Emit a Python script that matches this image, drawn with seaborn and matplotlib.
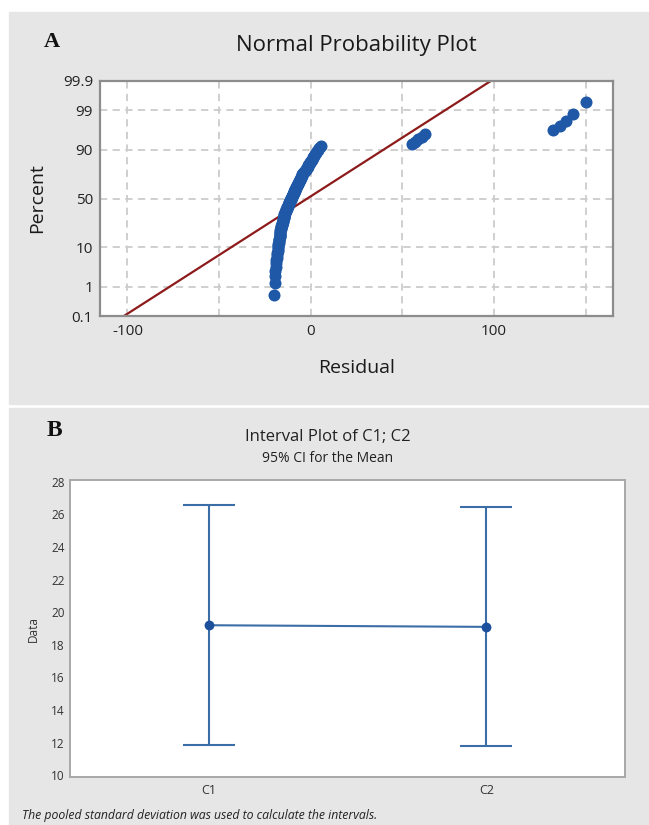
import numpy as np
import pandas as pd
import matplotlib
matplotlib.use("Agg")
import matplotlib.pyplot as plt
from matplotlib.patches import Rectangle
import seaborn as sns
from statistics import NormalDist

sns.set_theme(style="white")
plt.rcParams['font.family'] = ['Open Sans', 'DejaVu Sans']

# --- panel A: residuals (sorted) ---
residuals_main = [
    -20.2, -19.6, -19.4, -19.3, -19.2, -19.1, -18.8, -18.6, -18.4, -18.3,
    -18.1, -18.0, -17.9, -17.7, -17.6, -17.5, -17.4, -17.3, -17.2, -17.0,
    -16.9, -16.9, -16.8, -16.7, -16.6, -16.5, -16.4, -16.3, -16.1, -16.0,
    -15.9, -15.7, -15.6, -15.5, -15.3, -15.2, -15.0, -14.9, -14.8, -14.7,
    -14.6, -14.5, -14.4, -14.3, -14.1, -14.0, -13.8, -13.6, -13.5, -13.3,
    -13.1, -12.9, -12.8, -12.6, -12.4, -12.2, -12.1, -11.9, -11.7, -11.6,
    -11.4, -11.2, -11.0, -10.8, -10.6, -10.4, -10.2, -10.1, -9.9, -9.7,
    -9.5, -9.3, -9.2, -8.9, -8.7, -8.6, -8.4, -8.2, -8.0, -7.8,
    -7.6, -7.4, -7.2, -7.0, -6.8, -6.6, -6.3, -6.1, -5.9, -5.6,
    -5.4, -5.2, -4.9, -4.7, -4.5, -4.2, -3.9, -3.5, -3.2, -2.8,
    -2.5, -2.1, -1.7, -1.4, -1.0, -0.5, -0.2, 0.2, 0.6, 1.0,
    1.4, 1.8, 2.2, 2.8, 3.2, 3.8, 4.6, 5.8,
]
residuals_mid = [55.5, 57.0, 58.5, 60.5, 62.5]
residuals_high = [132.5, 136.0, 139.5, 143.0]
residuals_top = [150.0]

prob_ticks = [0.1, 1, 10, 50, 90, 99, 99.9]
prob_labels = ["0.1", "1", "10", "50", "90", "99", "99.9"]
prob_grid = [1, 10, 50, 90, 99]
resid_ticks = [-100, 0, 100]
resid_grid = [-100, -50, 0, 50, 100, 150]

# --- panel B: interval plot ---
groups = ["C1", "C2"]
means = [19.2, 19.1]
ci_low = [11.85, 11.8]
ci_high = [26.55, 26.45]
data_ticks = [10, 12, 14, 16, 18, 20, 22, 24, 26, 28]

BG = "#e6e6e6"
DOT = "#1f58a6"
FIT = "#8e1b1b"
CI_BLUE = "#3b6ea6"
MEAN_BLUE = "#1c4f9c"

W, H = 649, 825
fig = plt.figure(figsize=(W / 100, H / 100), dpi=100, facecolor="white")


def fx(px):
    return px / W


def fy(py):
    return 1 - py / H


# gray panel backgrounds
fig.patches.append(Rectangle((fx(9), fy(404)), fx(640), 392 / H, transform=fig.transFigure,
                             color=BG, zorder=-10))
fig.patches.append(Rectangle((fx(9), 0), fx(640), fy(408), transform=fig.transFigure,
                             color=BG, zorder=-10))

nd = NormalDist()

# ---------------- panel A ----------------
axA = fig.add_axes([fx(100), fy(316), fx(513), (316 - 81) / H])
res = np.sort(np.array(residuals_main + residuals_mid + residuals_high + residuals_top))
n = len(res)
pct = (np.arange(1, n + 1) - 0.3) / (n + 0.4)
df_a = pd.DataFrame({"Residual": res, "z": [nd.inv_cdf(p) for p in pct]})

zlo, zhi = nd.inv_cdf(0.001), nd.inv_cdf(0.999)
mu, sd = res.mean(), res.std(ddof=1)

for g in resid_grid:
    axA.axvline(g, color="#cccccc", lw=1.3, ls=(0, (4, 3)), zorder=0)
for g in prob_grid:
    axA.axhline(nd.inv_cdf(g / 100), color="#cccccc", lw=1.3, ls=(0, (4, 3)), zorder=0)

sns.lineplot(x=[mu + sd * zlo, mu + sd * zhi], y=[zlo, zhi], ax=axA, color=FIT, lw=1.6, zorder=2)
sns.scatterplot(data=df_a, x="Residual", y="z", ax=axA, s=75, color=DOT, edgecolor=DOT,
                linewidth=0, zorder=3)

axA.set_xlim(-115, 165)
axA.set_ylim(zlo, zhi)
axA.set_yticks([nd.inv_cdf(p / 100) for p in prob_ticks])
axA.set_yticklabels(prob_labels)
axA.set_xticks(resid_ticks)
axA.set_xticklabels([str(t) for t in resid_ticks])
axA.tick_params(axis="both", labelsize=11, length=4, width=1, color="#888888",
                direction="out", pad=2, labelcolor="#222222")
axA.tick_params(axis="y", pad=1)
axA.set_xlabel("")
axA.set_ylabel("")
for s in axA.spines.values():
    s.set_color("#8c8c8c")
    s.set_linewidth(1.6)

fig.text(fx(356), fy(45), "Normal Probability Plot", ha="center", va="center",
         fontsize=16, color="#1a1a1a")
fig.text(fx(357), fy(368), "Residual", ha="center", va="center", fontsize=14, color="#1a1a1a")
fig.text(fx(37), fy(198), "Percent", ha="center", va="center", rotation=90, fontsize=14,
         color="#1a1a1a")
fig.text(fx(52), fy(42), "A", ha="center", va="center", fontsize=16, fontweight="bold",
         family="Liberation Serif", color="#111111")

# ---------------- panel B ----------------
axB = fig.add_axes([fx(70), fy(777), fx(555), (777 - 480) / H])
axB.set_facecolor("white")
df_b = pd.DataFrame({"Group": groups, "Mean": means, "Low": ci_low, "High": ci_high})

sns.pointplot(data=df_b, x="Group", y="Mean", ax=axB, errorbar=None, color=CI_BLUE,
              markers="", linewidth=1.5)
axB.errorbar(x=np.arange(len(groups)), y=df_b["Mean"],
             yerr=[df_b["Mean"] - df_b["Low"], df_b["High"] - df_b["Mean"]],
             fmt="none", ecolor=CI_BLUE, elinewidth=1.5, capsize=19, capthick=1.5, zorder=2)
sns.scatterplot(x=np.arange(len(groups)), y=df_b["Mean"], ax=axB, s=50, color=MEAN_BLUE,
                edgecolor=MEAN_BLUE, linewidth=0, zorder=4)

axB.set_xlim(-0.5, 1.5)
axB.set_ylim(9.9, 28.1)
axB.set_yticks(data_ticks)
axB.set_yticklabels([str(t) for t in data_ticks])
axB.set_xticks(range(len(groups)))
axB.set_xticklabels(groups)
axB.tick_params(axis="y", labelsize=8.5, length=3, width=0.8, color="#999999",
                direction="out", pad=1, labelcolor="#333333")
axB.tick_params(axis="x", labelsize=9, length=3, width=0.8, color="#999999",
                direction="out", pad=2, labelcolor="#333333")
axB.set_xlabel("")
axB.set_ylabel("Data", fontsize=8.5, color="#333333", labelpad=8)
for s in axB.spines.values():
    s.set_color("#a8a8a8")
    s.set_linewidth(1.4)

fig.text(fx(328), fy(437), "Interval Plot of C1; C2", ha="center", va="center",
         fontsize=12, color="#222222")
fig.text(fx(328), fy(459), "95% CI for the Mean", ha="center", va="center",
         fontsize=10, color="#222222")
fig.text(fx(54), fy(431), "B", ha="center", va="center", fontsize=17, fontweight="bold",
         family="Liberation Serif", color="#111111")
fig.text(fx(22), fy(815), "The pooled standard deviation was used to calculate the intervals.",
         ha="left", va="center", fontsize=8.8, style="italic", color="#222222")

fig.savefig("out.png", dpi=100, facecolor="white")
